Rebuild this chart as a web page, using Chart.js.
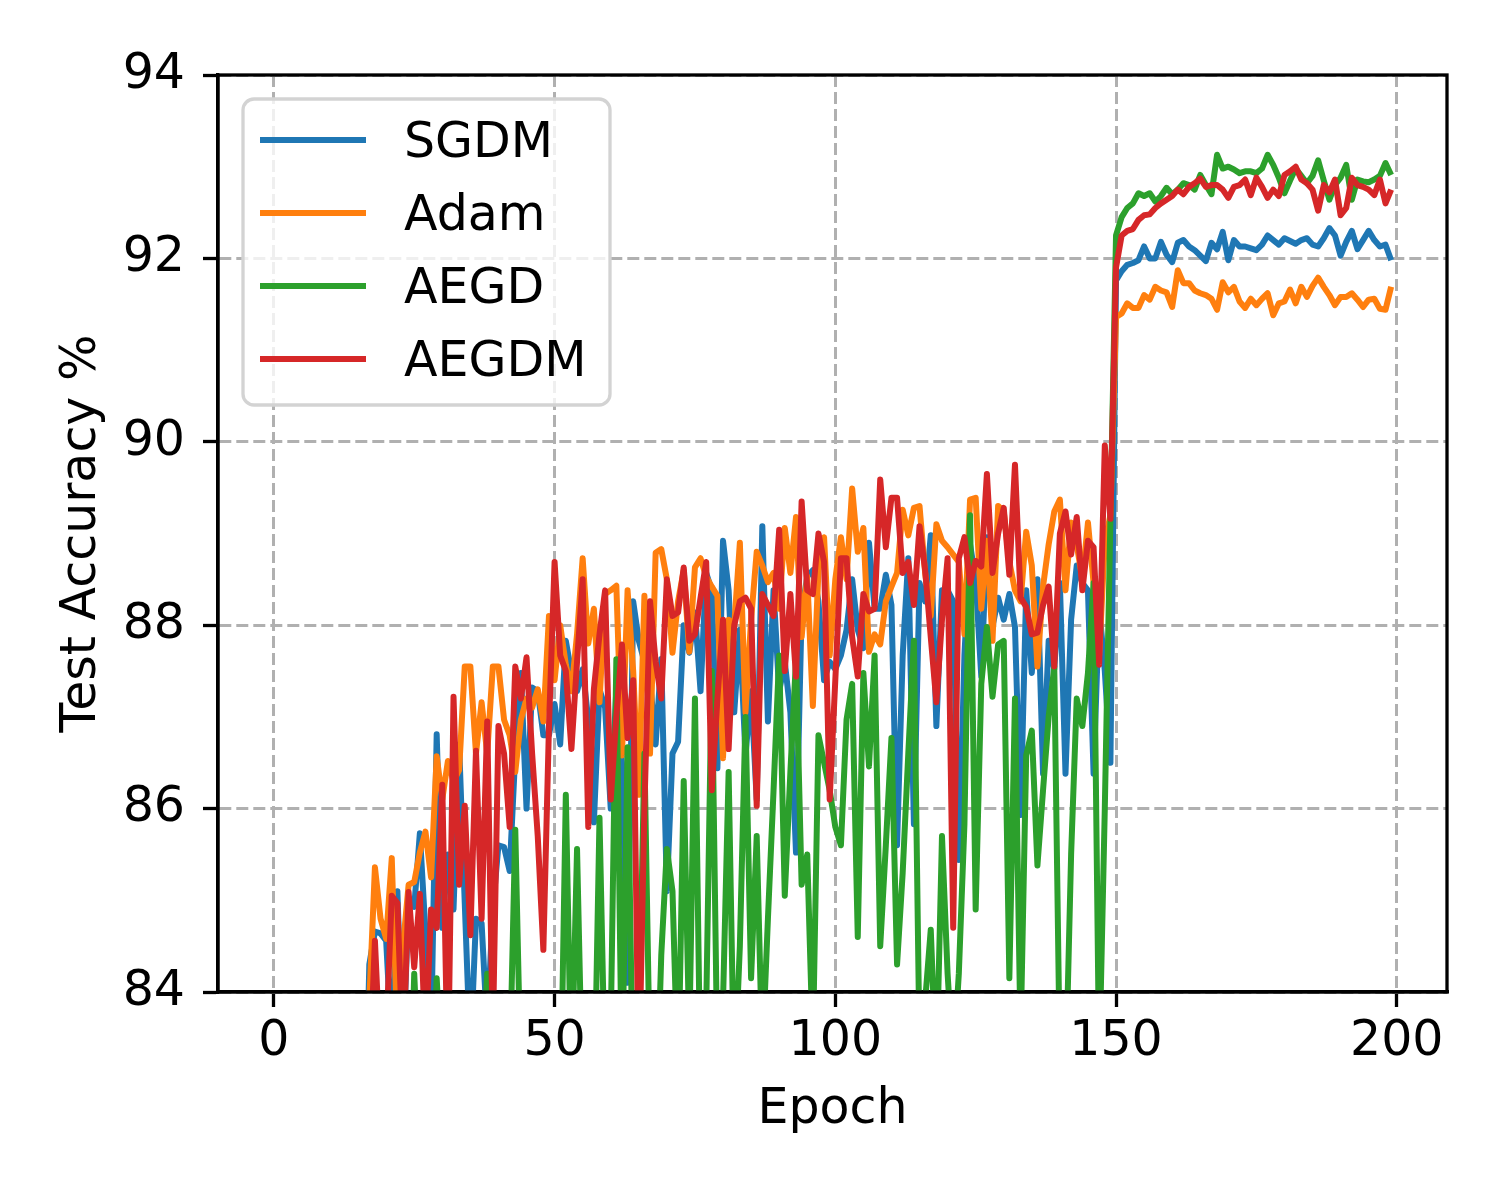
<!DOCTYPE html>
<html>
<head>
<meta charset="utf-8">
<title>Test Accuracy</title>
<script src="https://cdn.jsdelivr.net/npm/chart.js@4.4.0/dist/chart.umd.min.js"></script>
<style>
  html, body { margin: 0; padding: 0; background: #fff; }
  #wrap { width: 1500px; height: 1200px; }
</style>
</head>
<body>
<div id="wrap"><canvas id="chart" width="1500" height="1200"></canvas></div>
<script>
// test accuracy per epoch (values under 84 fall below the visible range)
const sgdm = [
  42.1, 55.3, 63.8, 68.9, 71.2, 74.5, 75.9, 77.3, 76.1, 79.4,
  78.2, 80.6, 79.8, 81.5, 80.2, 82.4, 81.7, 84.3, 84.66, 84.64,
  84.56, 83.4, 85.1, 83.3, 85.0, 84.93, 85.73, 84.66, 83.5, 86.81,
  84.7, 85.5, 84.9, 86.7, 84.97, 83.3, 84.8, 84.75, 83.6, 84.9,
  85.6, 85.58, 85.32, 86.6, 87.48, 86.0, 87.32, 87.28, 86.8, 86.8,
  87.14, 86.7, 87.83, 87.48, 87.28, 87.52, 86.97, 85.85, 87.3, 87.1,
  86.0, 87.3, 86.5, 84.1, 88.26, 87.83, 87.6, 87.4, 86.7, 87.63,
  85.1, 86.6, 86.73, 88.0, 87.7, 88.14, 87.28, 88.57, 88.38, 86.44,
  88.92, 88.38, 87.05, 87.95, 86.58, 87.28, 86.1, 89.08, 86.95, 88.38,
  87.28, 87.6, 87.05, 85.52, 88.14, 88.53, 88.6, 88.26, 87.4, 87.6,
  87.52, 87.67, 87.95, 88.5, 87.95, 87.75, 88.9, 88.18, 88.18, 88.55,
  88.22, 85.6, 87.67, 88.73, 85.83, 88.46, 88.26, 88.98, 86.9, 88.38,
  88.38, 88.26, 85.44, 87.67, 88.88, 88.5, 87.44, 88.96, 87.98, 88.3,
  88.06, 88.34, 87.98, 85.93, 88.38, 87.48, 88.5, 86.38, 87.83, 87.52,
  88.46, 86.38, 88.06, 88.65, 88.46, 88.38, 86.38, 88.2, 87.5, 86.5,
  91.76, 91.86, 91.93, 91.95, 91.98, 92.13, 92.0, 92.0, 92.18, 92.04,
  91.96, 92.17, 92.2, 92.13, 92.09, 92.03, 91.97, 92.17, 92.1, 92.29,
  91.98, 92.2, 92.13, 92.13, 92.11, 92.09, 92.15, 92.25, 92.2, 92.15,
  92.22, 92.19, 92.16, 92.2, 92.22, 92.15, 92.13, 92.22, 92.33, 92.25,
  92.03, 92.18, 92.3, 92.1, 92.2, 92.3, 92.2, 92.13, 92.15, 91.98
];
const adam = [
  48.5, 60.2, 66.7, 70.1, 73.8, 75.2, 77.9, 78.6, 79.1, 80.3,
  81.2, 80.7, 82.1, 81.9, 82.8, 83.1, 82.5, 83.9, 85.36, 84.8,
  84.58, 85.46, 83.5, 84.5, 85.17, 85.2, 85.52, 85.75, 85.25, 86.57,
  86.1, 86.52, 86.3, 86.42, 87.55, 87.55, 86.6, 87.16, 86.6, 87.55,
  87.55, 86.97, 86.8, 86.4, 86.97, 87.2, 87.1, 87.3, 86.95, 88.1,
  87.4, 88.0, 87.57, 87.28, 87.9, 88.73, 87.8, 88.18, 87.16, 88.34,
  88.38, 88.43, 86.58, 88.38, 87.5, 86.15, 88.32, 86.6, 88.79, 88.83,
  88.5, 87.7, 88.26, 88.6, 87.71, 88.63, 88.73, 88.53, 88.42, 88.32,
  86.55, 88.06, 88.0, 88.9, 87.05, 88.06, 88.8, 88.65, 88.47, 88.57,
  88.18, 89.06, 88.57, 89.18, 87.87, 88.53, 87.12, 88.6, 88.96, 87.67,
  88.5, 88.96, 88.5, 89.49, 88.8, 89.06, 87.71, 87.9, 87.79, 88.26,
  88.42, 88.57, 89.26, 88.98, 89.28, 89.3, 88.57, 88.1, 89.1, 88.92,
  88.85, 88.77, 88.69, 87.9, 89.37, 89.39, 88.18, 88.92, 87.83, 89.3,
  89.24, 88.69, 88.38, 88.26, 89.02, 88.65, 87.55, 88.42, 88.88, 89.24,
  89.37, 88.38, 89.12, 88.88, 88.5, 89.12, 88.46, 87.67, 88.9, 89.2,
  91.36, 91.4, 91.51, 91.46, 91.46, 91.6, 91.55, 91.69, 91.65, 91.63,
  91.47, 91.87, 91.73, 91.73, 91.65, 91.62, 91.6, 91.56, 91.44, 91.74,
  91.63, 91.69, 91.53, 91.46, 91.56, 91.49, 91.56, 91.62, 91.38, 91.51,
  91.53, 91.66, 91.51, 91.69, 91.58, 91.7, 91.79, 91.69, 91.6, 91.49,
  91.58, 91.58, 91.62, 91.55, 91.47, 91.55, 91.56, 91.45, 91.44, 91.69
];
const aegd = [
  30.5, 44.2, 52.8, 58.7, 63.1, 66.4, 69.0, 71.5, 72.8, 74.9,
  75.6, 77.2, 76.8, 78.9, 79.3, 80.1, 79.6, 80.8, 81.5, 80.2,
  82.1, 81.4, 82.6, 83.6, 82.0, 84.2, 82.8, 83.1, 82.5, 84.15,
  83.0, 82.7, 83.4, 82.1, 83.5, 82.9, 83.3, 83.0, 84.2, 82.8,
  83.4, 82.6, 83.1, 85.77, 83.0, 82.4, 83.2, 82.0, 83.5, 82.9,
  83.3, 82.5, 86.15, 83.0, 85.56, 82.8, 83.4, 82.6, 85.9, 83.0,
  83.6, 87.63, 83.0, 86.67, 82.8, 83.5, 86.6, 83.1, 82.4, 84.4,
  85.56, 85.1, 83.0, 86.3, 83.5, 87.2, 82.9, 83.8, 87.5, 83.2,
  83.9, 86.4, 83.0, 84.5, 87.0, 84.15, 85.7, 83.3, 84.8, 86.2,
  87.67, 85.05, 86.4, 87.63, 85.17, 85.5, 83.4, 86.8, 86.5, 86.2,
  85.8, 85.6, 86.97, 87.36, 84.6, 87.48, 86.46, 87.67, 84.5, 85.6,
  86.77, 84.3, 85.3, 86.6, 87.83, 83.4, 83.9, 84.68, 83.1, 85.7,
  84.2, 83.2, 84.2, 85.83, 89.2, 84.9, 87.36, 87.98, 87.22, 87.79,
  87.83, 84.15, 87.2, 83.5, 86.58, 86.85, 85.38, 86.2, 87.0, 87.55,
  83.2, 83.0, 85.5, 87.2, 86.9, 87.48, 88.46, 83.2, 86.0, 89.16,
  92.25, 92.45, 92.55, 92.6, 92.71, 92.68, 92.71, 92.62, 92.68, 92.77,
  92.7, 92.75, 92.82, 92.8, 92.75, 92.91, 92.8, 92.7, 93.13, 92.98,
  93.0, 92.97, 92.93, 92.95, 92.95, 92.93, 92.98, 93.13, 93.02, 92.88,
  92.71, 92.85, 92.98, 92.9, 92.82, 92.9, 93.07, 92.85, 92.64, 92.8,
  92.88, 93.02, 92.64, 92.86, 92.84, 92.83, 92.86, 92.9, 93.04, 92.91
];
const aegdm = [
  38.2, 52.9, 61.4, 67.3, 70.8, 73.1, 75.6, 76.9, 78.2, 77.4,
  79.8, 80.9, 80.1, 82.3, 81.6, 82.9, 82.2, 83.0, 84.56, 83.2,
  83.5, 85.05, 84.97, 83.3, 85.09, 84.27, 85.07, 83.4, 84.9, 84.7,
  86.26, 83.0, 87.22, 85.17, 86.03, 84.62, 86.63, 84.8, 86.95, 83.5,
  86.9, 86.6, 85.8, 87.55, 87.2, 87.65, 86.6, 85.7, 84.46, 86.9,
  88.69, 87.67, 87.5, 86.65, 87.6, 88.5, 85.8, 87.3, 87.9, 88.38,
  86.1, 87.0, 87.79, 86.77, 87.4, 83.0, 86.0, 88.26, 87.6, 87.2,
  88.5, 88.1, 88.14, 88.63, 87.83, 87.9, 88.3, 88.69, 86.2, 87.2,
  88.06, 86.65, 88.0, 88.26, 88.3, 88.18, 86.03, 88.34, 88.22, 88.1,
  89.04, 87.5, 88.34, 87.44, 89.35, 88.38, 88.34, 89.0, 88.69, 86.1,
  87.4, 88.73, 88.73, 87.87, 87.44, 88.34, 88.15, 88.18, 89.59, 88.85,
  89.39, 89.39, 88.57, 88.69, 88.22, 89.08, 88.6, 87.87, 87.16, 88.06,
  88.73, 84.7, 88.73, 88.96, 88.46, 88.7, 88.64, 89.65, 88.57, 89.0,
  89.28, 88.55, 89.75, 88.3, 88.2, 87.9, 87.92, 88.22, 88.42, 87.55,
  89.0, 89.24, 88.77, 89.18, 88.38, 88.92, 88.85, 87.57, 89.96, 89.16,
  91.9, 92.25, 92.3, 92.32, 92.42, 92.47, 92.48, 92.55, 92.6, 92.64,
  92.68, 92.75, 92.7, 92.78, 92.82, 92.87, 92.78, 92.8, 92.8, 92.75,
  92.66, 92.78, 92.8, 92.86, 92.69, 92.88, 92.78, 92.66, 92.75, 92.68,
  92.91, 92.95, 93.0, 92.86, 92.82, 92.75, 92.52, 92.8, 92.72, 92.86,
  92.47, 92.55, 92.88, 92.8, 92.78, 92.75, 92.69, 92.86, 92.6, 92.75
];
const epochs = sgdm.map((_, i) => i);
const seriesNames = ['SGDM', 'Adam', 'AEGD', 'AEGDM'];
const seriesColors = ['#1f77b4', '#ff7f0e', '#2ca02c', '#d62728'];
const xTicks = [0, 50, 100, 150, 200];
const yTicks = [84, 86, 88, 90, 92, 94];

Chart.defaults.font.family = 'DejaVu Sans';
Chart.defaults.font.size = 49;
Chart.defaults.color = '#000';

// black box round the plot (matplotlib spines sit above the lines)
const framePlugin = {
    id: 'frame',
    afterDatasetsDraw(chart) {
        const a = chart.chartArea;
        const ctx = chart.ctx;
        ctx.save();
        ctx.strokeStyle = '#000';
        ctx.lineWidth = 3.3;
        ctx.strokeRect(a.left, a.top, a.right - a.left, a.bottom - a.top);
        ctx.restore();
    }
};

// legend box in the upper left, inside the axes
const legendPlugin = {
    id: 'boxLegend',
    afterDraw(chart) {
        const ctx = chart.ctx;
        const x = 243, y = 99, w = 367, h = 306, r = 11;
        ctx.save();
        ctx.beginPath();
        ctx.moveTo(x + r, y);
        ctx.arcTo(x + w, y, x + w, y + h, r);
        ctx.arcTo(x + w, y + h, x, y + h, r);
        ctx.arcTo(x, y + h, x, y, r);
        ctx.arcTo(x, y, x + w, y, r);
        ctx.closePath();
        ctx.fillStyle = 'rgba(255, 255, 255, 0.8)';
        ctx.fill();
        ctx.strokeStyle = '#d3d3d3';
        ctx.lineWidth = 3.3;
        ctx.stroke();
        chart.data.datasets.forEach((ds, i) => {
            const ly = 140 + i * 73;
            ctx.beginPath();
            ctx.moveTo(260, ly);
            ctx.lineTo(366, ly);
            ctx.strokeStyle = ds.borderColor;
            ctx.lineWidth = 6;
            ctx.stroke();
            ctx.fillStyle = '#000';
            ctx.font = '49px "DejaVu Sans"';
            ctx.textBaseline = 'alphabetic';
            ctx.textAlign = 'left';
            ctx.fillText(ds.label, 404, ly + 17);
        });
        ctx.restore();
    }
};

const allSeries = [sgdm, adam, aegd, aegdm];
const datasets = seriesNames.map((name, i) => ({
    label: name,
    data: allSeries[i].map((v, j) => ({ x: epochs[j], y: v })),
    borderColor: seriesColors[i],
    backgroundColor: seriesColors[i],
    borderWidth: 6,
    pointRadius: 0,
    tension: 0,
    fill: false,
    borderJoinStyle: 'round',
    order: seriesNames.length - i
}));

const gridOpts = {
    color: '#b0b0b0',
    lineWidth: 3,
    tickLength: 15,
    tickWidth: 3.3,
    tickColor: '#000',
    tickBorderDash: []
};
const borderOpts = { display: true, color: '#000', width: 3.3, dash: [12, 5] };

const ctx = document.getElementById('chart').getContext('2d');
new Chart(ctx, {
    type: 'line',
    data: { datasets: datasets },
    options: {
        responsive: false,
        animation: false,
        devicePixelRatio: 1,
        layout: { padding: { top: 75, right: 53, left: 0, bottom: 0 } },
        scales: {
            x: {
                type: 'linear',
                min: -9.95,
                max: 208.95,
                afterBuildTicks: s => { s.ticks = xTicks.map(v => ({ value: v })); },
                afterFit: s => { s.height = 208; },
                ticks: { padding: 6, maxRotation: 0, autoSkip: false, callback: v => String(v) },
                grid: gridOpts,
                border: borderOpts,
                title: { display: true, text: 'Epoch', padding: { top: 0, bottom: 60 } }
            },
            y: {
                type: 'linear',
                min: 84,
                max: 94,
                afterBuildTicks: s => { s.ticks = yTicks.map(v => ({ value: v })); },
                afterFit: s => { s.width = 218; },
                ticks: { padding: 18, callback: v => String(v) },
                grid: gridOpts,
                border: borderOpts,
                title: { display: true, text: 'Test Accuracy %', padding: { top: 53, bottom: 0 } }
            }
        },
        plugins: {
            legend: { display: false },
            tooltip: { enabled: false }
        }
    },
    plugins: [framePlugin, legendPlugin]
});
</script>
</body>
</html>
